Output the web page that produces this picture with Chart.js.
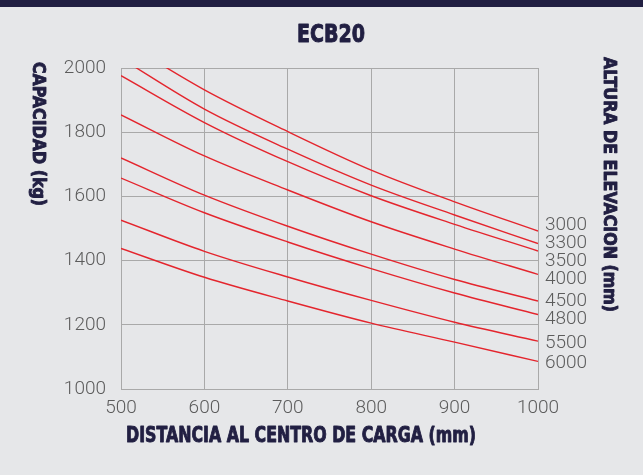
<!DOCTYPE html>
<html>
<head>
<meta charset="utf-8">
<title>ECB20</title>
<script src="https://cdn.jsdelivr.net/npm/chart.js@4.4.1/dist/chart.umd.min.js"></script>
<style>
  html, body { margin: 0; padding: 0; background: #e6e7e9; }
  canvas { display: block; }
</style>
</head>
<body>
<canvas id="chart" width="643" height="475"></canvas>
<script>
// load centre distance (mm) on the x axis
const loadCenters = [500, 600, 700, 800, 900, 1000];
// lift heights (mm), one curve each
const liftHeights = ["3000", "3300", "3500", "4000", "4500", "4800", "5500", "6000"];
// capacity (kg), the first two run off the top at 500
const cap3000 = [2087, 1932, 1802, 1682, 1583, 1492];
const cap3300 = [2030, 1872, 1747, 1635, 1542, 1453];
const cap3500 = [1976, 1830, 1708, 1602, 1513, 1430];
const cap4000 = [1854, 1726, 1620, 1521, 1436, 1357];
const cap4500 = [1720, 1604, 1507, 1420, 1341, 1274];
const cap4800 = [1657, 1549, 1458, 1375, 1299, 1232];
const cap5500 = [1526, 1429, 1349, 1276, 1208, 1149];
const cap6000 = [1438, 1348, 1274, 1205, 1146, 1086];
const yTicks = [1000, 1200, 1400, 1600, 1800, 2000];

const capacities = [cap3000, cap3300, cap3500, cap4000, cap4500, cap4800, cap5500, cap6000];

const navy = "#211f42";
const red = "#e4252d";
const grey = "#5c5c5c";
const boldFont = '"DejaVu Sans Condensed", "Liberation Sans", sans-serif';
const thinFont = 'Roboto, "Liberation Sans", sans-serif';

const datasets = capacities.map((vals, i) => ({
    label: liftHeights[i],
    data: vals.map((v, j) => ({ x: loadCenters[j], y: v })),
    borderColor: red,
    borderWidth: 1.4,
    pointRadius: 0,
    fill: false,
    cubicInterpolationMode: "monotone"
}));

// draws text squeezed to a given width (the original uses a heavy condensed face)
function fitText(ctx, text, x, y, width, angle) {
    ctx.save();
    ctx.translate(x, y);
    if (angle) ctx.rotate(angle);
    const w = ctx.measureText(text).width;
    ctx.scale(width / w, 1);
    ctx.strokeStyle = ctx.fillStyle;
    ctx.lineWidth = 0.9;
    ctx.lineJoin = "round";
    ctx.strokeText(text, 0, 0);
    ctx.fillText(text, 0, 0);
    ctx.restore();
}

// background, title, rotated axis titles and the curve labels on the right
const decor = {
    id: "decor",
    beforeDraw(chart) {
        const ctx = chart.ctx;
        ctx.save();
        ctx.fillStyle = "#e6e7e9";
        ctx.fillRect(0, 0, chart.width, chart.height);
        ctx.fillStyle = navy;
        ctx.fillRect(0, 0, chart.width, 7);
        ctx.restore();
    },
    afterDraw(chart) {
        const ctx = chart.ctx;
        const area = chart.chartArea;
        ctx.save();
        ctx.fillStyle = navy;
        ctx.textBaseline = "middle";
        ctx.textAlign = "left";

        ctx.font = "bold 25px " + boldFont;
        fitText(ctx, "ECB20", 297, 35, 68);

        ctx.font = "bold 21px " + boldFont;
        fitText(ctx, "DISTANCIA AL CENTRO DE CARGA (mm)", 126, 437, 350);

        ctx.font = "bold 18px " + boldFont;
        fitText(ctx, "CAPACIDAD (kg)", 38, 62, 144, Math.PI / 2);
        fitText(ctx, "ALTURA DE ELEVACION (mm)", 609, 57, 255, Math.PI / 2);
        ctx.restore();

        // spread the end labels so they do not overlap
        const gap = 18;
        const ends = chart.data.datasets.map((d, i) => {
            const pts = chart.getDatasetMeta(i).data;
            return pts[pts.length - 1].y + 2;
        });
        let groups = ends.map(y => ({ ys: [y], top: y }));
        let merged = true;
        while (merged) {
            merged = false;
            for (let i = 1; i < groups.length; i++) {
                const a = groups[i - 1], b = groups[i];
                if (a.top + (a.ys.length - 1) * gap + gap > b.top) {
                    const ys = a.ys.concat(b.ys);
                    const mean = ys.reduce((s, v) => s + v, 0) / ys.length;
                    groups.splice(i - 1, 2, { ys: ys, top: mean - (ys.length - 1) * gap / 2 });
                    merged = true;
                    break;
                }
            }
        }
        ctx.save();
        ctx.fillStyle = grey;
        ctx.font = "300 19px " + thinFont;
        ctx.textAlign = "left";
        ctx.textBaseline = "middle";
        let k = 0;
        groups.forEach(g => {
            g.ys.forEach((y, j) => {
                ctx.fillText(chart.data.datasets[k].label, area.right + 7, g.top + j * gap);
                k++;
            });
        });
        ctx.restore();
    }
};

new Chart(document.getElementById("chart"), {
    type: "line",
    data: { datasets: datasets },
    options: {
        responsive: false,
        animation: false,
        layout: { padding: { top: 68, right: 105, left: 0, bottom: 0 } },
        plugins: { legend: { display: false }, tooltip: { enabled: false } },
        scales: {
            x: {
                type: "linear",
                min: loadCenters[0],
                max: loadCenters[loadCenters.length - 1],
                border: { color: "#a9a9a9", width: 1 },
                grid: { color: "#a9a9a9", lineWidth: 1, drawTicks: false },
                ticks: { stepSize: 100, color: grey, padding: 8, maxRotation: 0,
                         callback: v => String(v),
                         font: { family: thinFont, size: 19, weight: "300" } },
                afterFit: s => { s.height = 86; }
            },
            y: {
                min: yTicks[0],
                max: yTicks[yTicks.length - 1],
                border: { color: "#a9a9a9", width: 1 },
                grid: { color: "#a9a9a9", lineWidth: 1, drawTicks: false },
                afterBuildTicks: s => { s.ticks = yTicks.map(v => ({ value: v })); },
                ticks: { color: grey, padding: 15, callback: v => String(v),
                         font: { family: thinFont, size: 19, weight: "300" } },
                afterFit: s => { s.width = 121; }
            }
        }
    },
    plugins: [decor]
});
</script>
</body>
</html>
